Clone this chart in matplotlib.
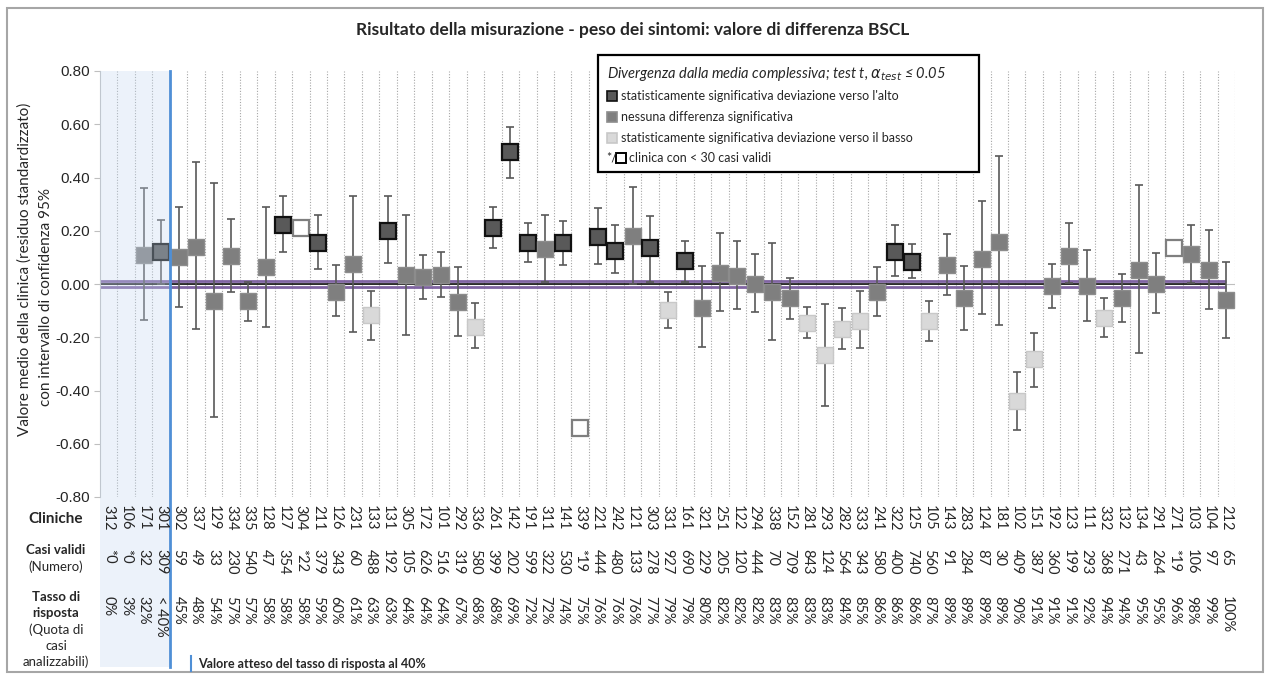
import numpy as np
import matplotlib
matplotlib.use("Agg")
import matplotlib.pyplot as plt
from matplotlib.patches import Rectangle
from matplotlib.lines import Line2D
import matplotlib.transforms as mtransforms

nan = np.nan

clinics = ["312", "106", "171", "301", "302", "337", "129", "334", "335", "128", "127", "304",
           "211", "126", "231", "133", "131", "305", "172", "101", "292", "336", "261", "142",
           "191", "311", "141", "339", "221", "242", "121", "303", "331", "161", "321", "251",
           "122", "294", "338", "152", "281", "293", "282", "333", "241", "322", "125", "105",
           "143", "283", "124", "181", "102", "151", "192", "123", "111", "332", "132", "134",
           "291", "271", "103", "104", "212"]

cases = ["*0", "*0", "32", "309", "59", "49", "33", "230", "540", "47", "354", "*22",
         "379", "343", "60", "488", "192", "105", "626", "516", "319", "580", "399", "202",
         "599", "322", "530", "*19", "444", "480", "133", "278", "927", "690", "229", "205",
         "120", "444", "70", "709", "843", "124", "564", "343", "580", "400", "740", "560",
         "91", "284", "87", "30", "409", "387", "360", "199", "293", "368", "271", "43",
         "264", "*19", "106", "97", "65"]

rates = ["0%", "3%", "32%", "< 40%", "45%", "48%", "54%", "57%", "57%", "58%", "58%", "58%",
         "59%", "60%", "61%", "63%", "63%", "64%", "64%", "64%", "67%", "68%", "68%", "69%",
         "72%", "72%", "74%", "75%", "76%", "76%", "76%", "77%", "79%", "79%", "80%", "82%",
         "82%", "82%", "83%", "83%", "83%", "83%", "84%", "85%", "86%", "86%", "86%", "87%",
         "89%", "89%", "89%", "89%", "90%", "91%", "91%", "91%", "92%", "94%", "94%", "95%",
         "95%", "96%", "98%", "99%", "100%"]

means = [nan, nan, 0.11, 0.12, 0.10, 0.14, -0.065, 0.105, -0.065, 0.065, 0.22, 0.21,
         0.155, -0.03, 0.075, -0.115, 0.20, 0.035, 0.027, 0.035, -0.067, -0.16, 0.21, 0.495,
         0.155, 0.13, 0.155, -0.54, 0.178, 0.125, 0.18, 0.135, -0.098, 0.087, -0.09, 0.042,
         0.03, 0.0, -0.03, -0.053, -0.145, -0.268, -0.17, -0.14, -0.03, 0.12, 0.083, -0.14,
         0.072, -0.053, 0.094, 0.158, -0.44, -0.283, -0.008, 0.105, -0.008, -0.128, -0.053, 0.053,
         0.0, 0.135, 0.113, 0.053, -0.06]

ci_low = [nan, nan, -0.135, 0.0, -0.085, -0.17, -0.50, -0.03, -0.14, -0.16, 0.12, nan,
          0.055, -0.12, -0.18, -0.21, 0.08, -0.19, -0.055, -0.048, -0.196, -0.24, 0.135, 0.40,
          0.083, 0.007, 0.072, nan, 0.075, 0.04, 0.0, 0.007, -0.166, 0.008, -0.237, -0.10,
          -0.095, -0.105, -0.21, -0.13, -0.203, -0.457, -0.245, -0.24, -0.12, 0.03, 0.023, -0.215,
          -0.042, -0.173, -0.113, -0.155, -0.547, -0.385, -0.09, 0.003, -0.14, -0.2, -0.143, -0.26,
          -0.11, nan, 0.003, -0.095, -0.204]

ci_high = [nan, nan, 0.36, 0.24, 0.29, 0.46, 0.38, 0.245, 0.008, 0.29, 0.33, nan,
           0.26, 0.07, 0.33, -0.025, 0.33, 0.26, 0.11, 0.12, 0.063, -0.072, 0.29, 0.59,
           0.23, 0.26, 0.235, nan, 0.287, 0.22, 0.365, 0.257, -0.03, 0.162, 0.068, 0.19,
           0.162, 0.113, 0.155, 0.022, -0.086, -0.076, -0.09, -0.026, 0.063, 0.22, 0.15, -0.065,
           0.188, 0.068, 0.31, 0.48, -0.33, -0.185, 0.075, 0.23, 0.128, -0.053, 0.038, 0.37,
           0.117, nan, 0.22, 0.204, 0.083]

# up = significantly higher, ns = no difference, down = significantly lower, few = < 30 cases
groups = ["none", "none", "ns", "up", "ns", "ns", "ns", "ns", "ns", "ns", "up", "few",
          "up", "ns", "ns", "down", "up", "ns", "ns", "ns", "ns", "down", "up", "up",
          "up", "ns", "up", "few", "up", "up", "ns", "up", "down", "up", "ns", "ns",
          "ns", "ns", "ns", "ns", "down", "down", "down", "down", "ns", "up", "up", "down",
          "ns", "ns", "ns", "ns", "down", "down", "ns", "ns", "ns", "down", "ns", "ns",
          "ns", "few", "ns", "ns", "ns"]

overall_ci = [-0.012, 0.013]

y_ticks = [-0.8, -0.6, -0.4, -0.2, 0.0, 0.2, 0.4, 0.6, 0.8]
y_ticklabels = ["-0.80", "-0.60", "-0.40", "-0.20", "0.00", "0.20", "0.40", "0.60", "0.80"]

legend_title = "Divergenza dalla media complessiva; test t, $\\alpha_{test}$ ≤ 0.05"
legend_labels = ["statisticamente significativa deviazione verso l'alto",
                 "nessuna differenza significativa",
                 "statisticamente significativa deviazione verso il basso",
                 "clinica con < 30 casi validi"]

W, H = 1266, 677
fig = plt.figure(figsize=(W / 100, H / 100), dpi=100)
fig.patch.set_facecolor("white")

def fx(px):
    return px / W

def fy(py):
    return 1 - py / H

FONT = "Lato"
TXT = "#262626"

ax_left, ax_right, ax_top, ax_bot = 100, 1235, 71, 497
ax = fig.add_axes([fx(ax_left), fy(ax_bot), fx(ax_right) - fx(ax_left), fy(ax_top) - fy(ax_bot)])
n = len(clinics)
x = np.arange(n)
ax.set_xlim(-0.5, n - 0.5)
ax.set_ylim(-0.8, 0.8)
for s in ["top", "right", "bottom"]:
    ax.spines[s].set_visible(False)
ax.spines["left"].set_color("#bfbfbf")
ax.spines["left"].set_linewidth(0.8)
ax.set_xticks([])
ax.set_yticks(y_ticks)
ax.set_yticklabels(y_ticklabels, fontfamily="Liberation Sans", fontsize=11, color=TXT)
ax.tick_params(axis="y", length=4, color="#bfbfbf", pad=3)

# vertical dotted category separators
for b in np.arange(0.5, n, 1.0):
    ax.axvline(b, color="#a6a6a6", lw=0.8, ls=(0, (1, 1.5)), zorder=1)

# reference lines
ax.axhline(0, color="#bfbfbf", lw=0.8, zorder=1)
ax.plot([-0.5, n - 1], [overall_ci[1]] * 2, color="#8064a2", lw=2.0, zorder=2, solid_capstyle="butt")
ax.plot([-0.5, n - 1], [overall_ci[0]] * 2, color="#8064a2", lw=2.0, zorder=2, solid_capstyle="butt")
ax.plot([-0.5, n - 1], [0, 0], color="black", lw=1.1, zorder=2, solid_capstyle="butt")

means_a = np.array(means, dtype=float)
lo = np.array(ci_low, dtype=float)
hi = np.array(ci_high, dtype=float)

styles = {
    "up": dict(mfc="#595959", mec="#111111", mew=1.6),
    "ns": dict(mfc="#7f7f7f", mec="#8c8c8c", mew=1.0),
    "down": dict(mfc="#d9d9d9", mec="#c8c8c8", mew=1.0),
    "few": dict(mfc="white", mec="#7f7f7f", mew=1.6),
}

for i in range(n):
    g = groups[i]
    if g == "none" or np.isnan(means_a[i]):
        continue
    if not np.isnan(lo[i]):
        ax.errorbar([x[i]], [means_a[i]], yerr=[[means_a[i] - lo[i]], [hi[i] - means_a[i]]],
                    fmt="none", ecolor="#595959", elinewidth=1.2, capsize=3.0, capthick=1.2, zorder=3)
    ax.plot([x[i]], [means_a[i]], marker="s", ms=11, ls="none", zorder=4, **styles[g])

# shaded region for response rate < 40% and the blue separator line
blend = mtransforms.blended_transform_factory(ax.transData, fig.transFigure)
shade_bottom = 667
ax.add_patch(Rectangle((-0.5, fy(shade_bottom)), 4.0, fy(ax_top) - fy(shade_bottom),
                       transform=blend, facecolor="#c5d9f1", alpha=0.32, edgecolor="none",
                       zorder=5, clip_on=False))
ax.add_line(Line2D([3.5, 3.5], [fy(ax_top), fy(shade_bottom)], transform=blend,
                   color="#4f8fd6", lw=2.0, zorder=6, clip_on=False))

# bottom table
for i in range(n):
    for yy, txt in ((505, clinics[i]), (549, cases[i]), (596, rates[i])):
        ax.text(x[i], fy(yy), txt, transform=blend, rotation=270, ha="center", va="top",
                fontsize=10.5, family=FONT, color=TXT, clip_on=False, zorder=7)

hx = fx(56)
fig.text(hx, fy(519), "Cliniche", ha="center", va="center", fontsize=11, family=FONT,
         weight="bold", color=TXT)
fig.text(hx, fy(550), "Casi validi", ha="center", va="center", fontsize=9.5, family=FONT,
         weight="bold", color=TXT)
fig.text(hx, fy(567), "(Numero)", ha="center", va="center", fontsize=9.5, family=FONT, color=TXT)
fig.text(hx, fy(597), "Tasso di", ha="center", va="center", fontsize=9.5, family=FONT,
         weight="bold", color=TXT)
fig.text(hx, fy(613), "risposta", ha="center", va="center", fontsize=9.5, family=FONT,
         weight="bold", color=TXT)
fig.text(hx, fy(630), "(Quota di", ha="center", va="center", fontsize=9.5, family=FONT, color=TXT)
fig.text(hx, fy(646), "casi", ha="center", va="center", fontsize=9.5, family=FONT, color=TXT)
fig.text(hx, fy(662), "analizzabili)", ha="center", va="center", fontsize=9.5, family=FONT, color=TXT)

fig.add_artist(Line2D([fx(191), fx(191)], [fy(656), fy(671)], color="#4f8fd6", lw=1.5))
fig.text(fx(198), fy(664), "Valore atteso del tasso di risposta al 40%", ha="left", va="center",
         fontsize=9, family=FONT, weight="bold", color=TXT)

# title and axis label
fig.text(fx(633), fy(30), "Risultato della misurazione - peso dei sintomi: valore di differenza BSCL",
         ha="center", va="center", fontsize=12.5, family=FONT, weight="bold", color=TXT)
fig.text(fx(25), fy(269), "Valore medio della clinica (residuo standardizzato)", rotation=90,
         ha="center", va="center", fontsize=11, family=FONT, color=TXT)
fig.text(fx(46), fy(297), "con intervallo di confidenza 95%", rotation=90,
         ha="center", va="center", fontsize=11, family=FONT, color=TXT)

# legend box
lx0, ly0, lx1, ly1 = 598, 55, 979, 172
fig.add_artist(Rectangle((fx(lx0), fy(ly1)), fx(lx1) - fx(lx0), fy(ly0) - fy(ly1),
                         facecolor="white", edgecolor="black", lw=1.6, zorder=10))
fig.text(fx(607), fy(74), legend_title, ha="left", va="center", fontsize=10.5, family=FONT,
         style="italic", color=TXT, zorder=11)
leg_styles = [styles["up"], styles["ns"], styles["down"]]
leg_y = [96, 117, 138]
for st, yy, lab in zip(leg_styles, leg_y, legend_labels[:3]):
    fig.add_artist(Line2D([fx(612)], [fy(yy)], marker="s", ms=6.5, ls="none", zorder=11,
                          mfc=st["mfc"], mec=st["mec"], mew=1.2))
    fig.text(fx(621), fy(yy), lab, ha="left", va="center", fontsize=9, family=FONT,
             color=TXT, zorder=11)
fig.text(fx(606), fy(158), "*/", ha="left", va="center", fontsize=9, family=FONT,
         color=TXT, zorder=11)
fig.add_artist(Line2D([fx(621)], [fy(158)], marker="s", ms=6.5, ls="none", zorder=11,
                      mfc="white", mec="black", mew=1.4))
fig.text(fx(629), fy(158), legend_labels[3], ha="left", va="center",
         fontsize=9, family=FONT, color=TXT, zorder=11)

# outer chart border
fig.add_artist(Rectangle((fx(7), fy(672)), fx(1263) - fx(7), fy(8) - fy(672),
                         facecolor="none", edgecolor="#a6a6a6", lw=1.5, zorder=0))

fig.savefig("out.png", dpi=100)
